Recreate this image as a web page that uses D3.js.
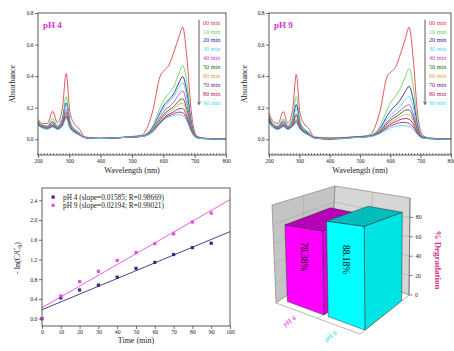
<!DOCTYPE html>
<html><head><meta charset="utf-8">
<script src="https://cdn.jsdelivr.net/npm/d3@7"></script>
<style>body{margin:0;background:#fff}svg{display:block;font-family:"Liberation Serif","Times New Roman",serif}</style>
</head><body><svg id="c" width="454" height="351"></svg>
<script>
// ---------------- DATA ----------------
const wavelengths = [200,215,230,247,262,278,290,302,315,330,350,400,480,530,565,590,605,618,635,650,662,675,690,705,725,800];
const timeLabels = ["00 min","10 min","20 min","30 min","40 min","50 min","60 min","70 min","80 min","90 min"];
const timeColors = ["#e0424a","#5fd860","#27289c","#56d6ea","#d23cd2","#1d6b1d","#e9a23e","#6b2a9c","#c2205c","#3fdff2"];
const absPH4 = [
 [0.125,0.100,0.100,0.177,0.105,0.200,0.417,0.170,0.100,0.070,0.015,0.005,0.015,0.025,0.170,0.400,0.440,0.470,0.560,0.650,0.710,0.520,0.160,0.025,0.008,0.000],
 [0.115,0.090,0.085,0.130,0.085,0.140,0.270,0.120,0.070,0.045,0.010,0.005,0.012,0.020,0.080,0.200,0.260,0.290,0.340,0.420,0.467,0.360,0.110,0.020,0.006,0.000],
 [0.110,0.085,0.080,0.110,0.078,0.125,0.230,0.105,0.062,0.040,0.010,0.005,0.012,0.020,0.070,0.170,0.225,0.250,0.295,0.360,0.398,0.300,0.095,0.018,0.006,0.000],
 [0.105,0.082,0.078,0.102,0.075,0.118,0.220,0.100,0.058,0.038,0.010,0.005,0.012,0.020,0.065,0.160,0.210,0.235,0.275,0.330,0.359,0.265,0.085,0.016,0.005,0.000],
 [0.100,0.080,0.075,0.095,0.072,0.108,0.190,0.090,0.055,0.035,0.010,0.005,0.012,0.018,0.060,0.140,0.185,0.205,0.240,0.285,0.306,0.225,0.075,0.015,0.005,0.000],
 [0.098,0.078,0.072,0.090,0.070,0.100,0.170,0.085,0.052,0.033,0.010,0.005,0.012,0.018,0.055,0.125,0.165,0.185,0.210,0.245,0.256,0.190,0.065,0.014,0.005,0.000],
 [0.095,0.076,0.070,0.087,0.068,0.095,0.160,0.080,0.050,0.032,0.010,0.005,0.012,0.018,0.052,0.118,0.155,0.172,0.195,0.222,0.228,0.170,0.060,0.013,0.005,0.000],
 [0.092,0.074,0.068,0.083,0.066,0.090,0.150,0.077,0.048,0.030,0.010,0.005,0.012,0.017,0.048,0.108,0.142,0.158,0.176,0.193,0.194,0.145,0.052,0.012,0.004,0.000],
 [0.090,0.072,0.066,0.080,0.064,0.086,0.140,0.073,0.046,0.029,0.010,0.005,0.012,0.017,0.046,0.102,0.134,0.148,0.163,0.172,0.168,0.128,0.048,0.011,0.004,0.000],
 [0.088,0.070,0.064,0.076,0.062,0.082,0.130,0.070,0.044,0.028,0.010,0.005,0.012,0.017,0.044,0.098,0.128,0.140,0.152,0.156,0.150,0.115,0.044,0.010,0.004,0.000]
];
const absPH9 = [
 [0.165,0.110,0.100,0.175,0.100,0.190,0.410,0.170,0.100,0.070,0.015,0.008,0.015,0.025,0.170,0.400,0.430,0.460,0.550,0.640,0.710,0.520,0.160,0.030,0.010,0.000],
 [0.150,0.095,0.085,0.130,0.085,0.140,0.270,0.120,0.070,0.045,0.012,0.006,0.014,0.022,0.080,0.190,0.245,0.275,0.330,0.400,0.448,0.340,0.105,0.020,0.008,0.000],
 [0.140,0.088,0.078,0.115,0.078,0.120,0.220,0.100,0.062,0.040,0.010,0.005,0.013,0.020,0.065,0.150,0.190,0.215,0.255,0.305,0.335,0.255,0.082,0.017,0.006,0.000],
 [0.135,0.085,0.075,0.108,0.075,0.110,0.190,0.092,0.058,0.037,0.010,0.004,0.013,0.020,0.058,0.128,0.162,0.182,0.215,0.255,0.272,0.205,0.068,0.015,0.006,0.000],
 [0.130,0.082,0.072,0.100,0.072,0.102,0.160,0.085,0.054,0.034,0.010,0.003,0.012,0.019,0.052,0.110,0.140,0.158,0.185,0.210,0.218,0.165,0.058,0.013,0.005,0.000],
 [0.125,0.080,0.070,0.095,0.070,0.097,0.150,0.080,0.051,0.032,0.009,0.002,0.012,0.018,0.048,0.100,0.126,0.142,0.165,0.184,0.186,0.140,0.050,0.012,0.005,0.000],
 [0.120,0.078,0.068,0.090,0.068,0.092,0.130,0.075,0.048,0.030,0.008,-0.003,0.011,0.018,0.045,0.090,0.112,0.126,0.145,0.157,0.155,0.118,0.044,0.011,0.004,0.000],
 [0.115,0.076,0.066,0.086,0.066,0.088,0.120,0.071,0.046,0.029,0.008,0.002,0.011,0.017,0.042,0.082,0.101,0.112,0.126,0.131,0.127,0.097,0.038,0.010,0.004,0.000],
 [0.110,0.074,0.064,0.082,0.064,0.084,0.110,0.067,0.044,0.028,0.008,0.002,0.011,0.017,0.039,0.072,0.088,0.097,0.106,0.106,0.100,0.078,0.032,0.009,0.004,0.000],
 [0.105,0.072,0.062,0.078,0.062,0.080,0.100,0.063,0.042,0.027,0.008,0.002,0.010,0.016,0.035,0.062,0.075,0.082,0.088,0.086,0.080,0.063,0.027,0.008,0.004,0.000]
];
const absTicks = [0.0,0.2,0.4,0.6,0.8];
const waveTicks = [200,300,400,500,600,700,800];

const kinTime = [0,10,20,30,40,50,60,70,80,90];
const kinPH4 = [0.00,0.42,0.58,0.68,0.84,1.02,1.14,1.30,1.44,1.53];
const kinPH9 = [0.00,0.46,0.75,0.96,1.18,1.34,1.52,1.72,1.96,2.14];
const fitTime = [0,100];
const fitPH4 = [0.18,1.765];
const fitPH9 = [0.22,2.414];
const kinLegend = ["pH 4 (slope=0.01585; R=0.98669)","pH 9 (slope=0.02194; R=0.99021)"];
const timeTicks = [0,10,20,30,40,50,60,70,80,90,100];
const lnTicks = [0.0,0.4,0.8,1.2,1.6,2.0,2.4];

const degCategories = ["pH 4","pH 9"];
const degValues = [78.38,88.18];
const degLabels = ["78.38%","88.18%"];
const degTicks = [0,20,40,60,80];

// ---------------- DRAW ----------------
const svg = d3.select("#c");
const FONT = '"Liberation Serif","Times New Roman",serif';
const AX = "#333";

function styleAxis(sel, fs){
  sel.select(".domain").remove();
  sel.selectAll("line").attr("stroke",AX).attr("stroke-width",0.7);
  sel.selectAll("text").attr("font-family",FONT).attr("font-size",fs).attr("fill","#222");
}

function drawSpectra(cfg){
  const {left,right,top,bottom,data,label,legX,ylabX} = cfg;
  const x = d3.scaleLinear().domain([200,800]).range([left,right]);
  const y = d3.scaleLinear().domain([-0.1,0.8]).range([bottom,top]);
  const g = svg.append("g");
  const line = d3.line().x((d,i)=>x(wavelengths[i])).y(d=>y(d)).curve(d3.curveMonotoneX);
  data.forEach((arr,k)=>{
    g.append("path").attr("d",line(arr)).attr("fill","none")
     .attr("stroke",timeColors[k]).attr("stroke-width",0.9);
  });
  g.append("rect").attr("x",left).attr("y",top).attr("width",right-left).attr("height",bottom-top)
   .attr("fill","none").attr("stroke",AX).attr("stroke-width",0.8);
  const ya = g.append("g").attr("transform",`translate(${left},0)`)
    .call(d3.axisLeft(y).tickValues(absTicks).tickFormat(d3.format(".1f")).tickSize(3).tickPadding(1.5));
  styleAxis(ya,5.5);
  const xa = g.append("g").attr("transform",`translate(0,${bottom})`)
    .call(d3.axisBottom(x).tickValues(waveTicks).tickFormat(d3.format("d")).tickSize(3).tickPadding(1.5));
  styleAxis(xa,5.5);
  const minor = d3.range(200,801,10);
  g.append("g").selectAll("line").data(minor).join("line")
   .attr("x1",d=>x(d)).attr("x2",d=>x(d)).attr("y1",bottom).attr("y2",bottom-2)
   .attr("stroke",AX).attr("stroke-width",0.6);
  g.append("text").attr("x",(left+right)/2).attr("y",bottom+18).attr("text-anchor","middle")
   .attr("font-family",FONT).attr("font-size",8).attr("fill","#222").text("Wavelength (nm)");
  g.append("text").attr("transform",`translate(${ylabX},${(top+bottom)/2}) rotate(-90)`)
   .attr("text-anchor","middle").attr("font-family",FONT).attr("font-size",8).attr("fill","#222").text("Absorbance");
  g.append("text").attr("x",left+5).attr("y",top+15).attr("font-family",FONT).attr("font-weight","bold")
   .attr("font-size",9).attr("fill","#d633d6").text(label);
  const ly = d3.scaleLinear().domain([0,9]).range([top+9.7,top+89.7]);
  g.append("line").attr("x1",legX-4).attr("x2",legX-4).attr("y1",ly(0)-3).attr("y2",ly(9)+1)
   .attr("stroke","#333").attr("stroke-width",0.8);
  g.append("path").attr("d",`M${legX-5.5},${ly(9)-1}L${legX-4},${ly(9)+2}L${legX-2.5},${ly(9)-1}`)
   .attr("fill","none").attr("stroke","#333").attr("stroke-width",0.7);
  g.append("g").selectAll("text").data(timeLabels).join("text")
   .attr("x",legX).attr("y",(d,i)=>ly(i)+2).attr("font-family",FONT).attr("font-size",6.2)
   .attr("fill",(d,i)=>timeColors[i]).text(d=>d);
}

drawSpectra({left:38,right:226,top:13,bottom:155,data:absPH4,label:"pH 4",legX:203,ylabX:15});
drawSpectra({left:269,right:451,top:13,bottom:155,data:absPH9,label:"pH 9",legX:429,ylabX:247});

// ---------- kinetics ----------
(function(){
  const left=42,right=230,top=188,bottom=326;
  const x = d3.scaleLinear().domain([0,100]).range([left,right]);
  const y = d3.scaleLinear().domain([-0.15,2.65]).range([bottom,top]);
  const g = svg.append("g");
  const c4="#3a2a82", c9="#e052e0";
  const ln = d3.line().x((d,i)=>x(fitTime[i])).y(d=>y(d));
  g.append("path").attr("d",ln(fitPH4)).attr("stroke",c4).attr("stroke-width",0.9).attr("fill","none");
  g.append("path").attr("d",ln(fitPH9)).attr("stroke",c9).attr("stroke-width",0.9).attr("fill","none");
  g.append("g").selectAll("rect").data(kinPH4).join("rect")
   .attr("x",(d,i)=>x(kinTime[i])-1.6).attr("y",d=>y(d)-1.6).attr("width",3.2).attr("height",3.2).attr("fill",c4);
  g.append("g").selectAll("rect").data(kinPH9).join("rect")
   .attr("x",(d,i)=>x(kinTime[i])-1.6).attr("y",d=>y(d)-1.6).attr("width",3.2).attr("height",3.2).attr("fill",c9);
  g.append("rect").attr("x",left).attr("y",top).attr("width",right-left).attr("height",bottom-top)
   .attr("fill","none").attr("stroke",AX).attr("stroke-width",0.8);
  const ya = g.append("g").attr("transform",`translate(${left},0)`)
    .call(d3.axisLeft(y).tickValues(lnTicks).tickFormat(d3.format(".1f")).tickSize(3).tickPadding(1.5));
  styleAxis(ya,5.8);
  const xa = g.append("g").attr("transform",`translate(0,${bottom})`)
    .call(d3.axisBottom(x).tickValues(timeTicks).tickFormat(d3.format("d")).tickSize(3).tickPadding(1));
  styleAxis(xa,5.8);
  g.append("text").attr("x",(left+right)/2).attr("y",bottom+17).attr("text-anchor","middle")
   .attr("font-family",FONT).attr("font-size",8).attr("fill","#222").text("Time (min)");
  const yl = g.append("text").attr("transform",`translate(20,${(top+bottom)/2+1}) rotate(-90)`)
   .attr("text-anchor","middle").attr("font-family",FONT).attr("font-size",8).attr("fill","#222");
  yl.append("tspan").text("- ln(C/C");
  yl.append("tspan").attr("font-size",5.5).attr("dy",2).text("0");
  yl.append("tspan").attr("dy",-2).text(")");
  const cols=[c4,c9];
  kinLegend.forEach((t,i)=>{
    g.append("rect").attr("x",51.5).attr("y",195.5+i*8.2).attr("width",3.2).attr("height",3.2).attr("fill",cols[i]);
    g.append("text").attr("x",63).attr("y",199.7+i*8.2).attr("font-family",FONT).attr("font-size",7.3)
     .attr("fill","#222").text(t);
  });
})();

// ---------- 3D bars ----------
(function(){
  const floorQ = {L:[276,303], F:[360,334], R:[409,295], B:[331,266]};
  const topQ   = {L:[272,205], F:[359,214], R:[410,198], B:[335,186]};
  function bil(q,u,v){
    const fx=q.L[0]+(q.F[0]-q.L[0])*u, fy=q.L[1]+(q.F[1]-q.L[1])*u;
    const bx=q.B[0]+(q.R[0]-q.B[0])*u, by=q.B[1]+(q.R[1]-q.B[1])*u;
    return [fx+(bx-fx)*v, fy+(by-fy)*v];
  }
  function P(u,v,w){const a=bil(floorQ,u,v), b=bil(topQ,u,v); return [a[0]+(b[0]-a[0])*w, a[1]+(b[1]-a[1])*w];}
  const z = d3.scaleLinear().domain([0,100]).range([0,1]);
  const band = d3.scaleBand().domain(degCategories).range([0.07,1.0]).paddingInner(0.1).paddingOuter(0);
  const v0=0.1, v1=0.85;
  const g = svg.append("g");
  const poly = pts => "M"+pts.map(p=>p.join(",")).join("L")+"Z";
  g.append("path").attr("d",poly([P(0,0,0),P(0,1,0),P(0,1,1),P(0,0,1)])).attr("fill","#c4c4c4").attr("stroke","#777").attr("stroke-width",0.6);
  g.append("path").attr("d",poly([P(0,1,0),P(1,1,0),P(1,1,1),P(0,1,1)])).attr("fill","#d6d6d6").attr("stroke","#777").attr("stroke-width",0.6);
  g.append("path").attr("d",poly([P(0,0,0),P(1,0,0),P(1,1,0),P(0,1,0)])).attr("fill","#fff").attr("stroke","#888").attr("stroke-width",0.6);
  const gl = g.append("g").attr("stroke","#9a9a9a").attr("stroke-width",0.4).attr("fill","none");
  degTicks.slice(1).forEach(t=>{
    const w=z(t);
    gl.append("path").attr("d","M"+[P(0,0,w),P(0,1,w),P(1,1,w)].map(p=>p.join(",")).join("L"));
  });
  gl.append("path").attr("d","M"+[P(0,0.5,0),P(0,0.5,1)].map(p=>p.join(",")).join("L"));
  gl.append("path").attr("d","M"+[P(0.5,0,0),P(0.5,1,0),P(0.5,1,1)].map(p=>p.join(",")).join("L"));
  const topCol=["#b800b8","#00bcbc"], frontCol=["#ff00ff","#00ffff"], sideCol=["#e000e0","#00e4e4"], labCol=["#e020e0","#22e0e0"];
  degCategories.forEach((c,i)=>{
    const u0=band(c), u1=u0+band.bandwidth(), w=z(degValues[i]);
    const bg=g.append("g").attr("stroke","#333").attr("stroke-width",0.5).attr("stroke-linejoin","round");
    bg.append("path").attr("d",poly([P(u1,v0,0),P(u1,v1,0),P(u1,v1,w),P(u1,v0,w)])).attr("fill",sideCol[i]);
    bg.append("path").attr("d",poly([P(u0,v0,0),P(u1,v0,0),P(u1,v0,w),P(u0,v0,w)])).attr("fill",frontCol[i]);
    bg.append("path").attr("d",poly([P(u0,v0,w),P(u1,v0,w),P(u1,v1,w),P(u0,v1,w)])).attr("fill",topCol[i]);
    const cpt=P((u0+u1)/2,v0,w*0.64);
    g.append("text").attr("transform",`translate(${cpt[0]-3},${cpt[1]}) rotate(90)`)
     .attr("text-anchor","middle").attr("font-family",FONT).attr("font-size",9.5).attr("fill","#111").text(degLabels[i]);
    const lp=P((u0+u1)/2,0,0);
    g.append("text").attr("transform",`translate(${lp[0]-4},${lp[1]+7}) rotate(-35)`)
     .attr("text-anchor","end").attr("font-family",FONT).attr("font-size",7).attr("fill",labCol[i]).text(c);
  });
  const ax=g.append("g");
  ax.append("path").attr("d","M"+[P(1,1,0),P(1,1,1)].map(p=>p.join(",")).join("L")).attr("stroke","#555").attr("stroke-width",0.6);
  degTicks.forEach(t=>{
    const p=P(1,1,z(t));
    ax.append("line").attr("x1",p[0]).attr("x2",p[0]+3.5).attr("y1",p[1]).attr("y2",p[1]).attr("stroke","#333").attr("stroke-width",0.6);
    ax.append("text").attr("x",p[0]+6).attr("y",p[1]+2).attr("font-family",FONT).attr("font-size",5.8).attr("fill","#222").text(t);
  });
  g.append("text").attr("transform","translate(435,260) rotate(90)").attr("text-anchor","middle")
   .attr("font-family",FONT).attr("font-weight","bold").attr("font-size",9).attr("fill","#d4308e").text("% Degradation");
})();
</script></body></html>
